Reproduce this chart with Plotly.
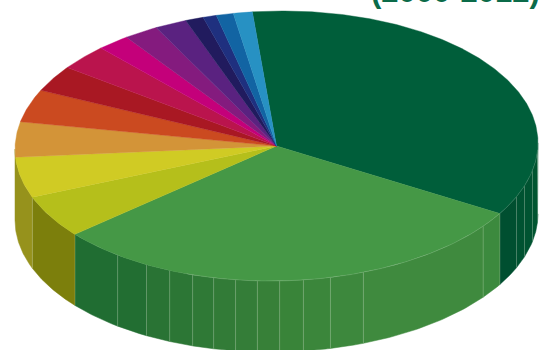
import numpy as np
import plotly.graph_objects as go

# Sector shares (percent), clockwise from the start angle
shares = [35.17, 30.3, 5.17, 4.86, 4.19, 3.89, 3.11, 3.03, 2.0, 2.11, 1.97, 1.11, 0.83, 1.06, 1.17]
top_colors = ["#005E3A", "#459846", "#B5BF1B", "#D0CB24", "#D39438", "#CB4A20", "#A91823", "#BA144D",
              "#C4007A", "#841B7E", "#5A2280", "#211B5E", "#1F307F", "#1264A3", "#2791C3"]
title_text = "(2000-2012)"

# Facets of the visible rim: boundary angles (degrees clockwise from north) and fill colours
facet_edges = [90, 93.6, 101.8, 108.5, 113.4, 121.3, 127.8, 160.6, 168.1, 174.1, 179.3, 184.2, 189,
               193.9, 198.7, 204.1, 209.8, 217.4, 230.4, 249, 270]
facet_colors = ["#00562F", "#005530", "#005331", "#005231", "#004F30", "#3C8A3E", "#3F8A3E", "#3D883D",
                "#3B863B", "#398439", "#378038", "#347D38", "#327B37", "#2F7936", "#2C7635", "#297334",
                "#226E32", "#206D32", "#7C7F0C", "#96921C"]

# Ellipse of the top face, with a slight tilt towards the upper right
cx, cy, rx, ry, depth, tilt = 276.5, 146.0, 261.5, 135.0, 71.0, 0.012
start_angle = -5.3


def rim(theta_deg, lift=0.0):
    t = np.radians(theta_deg)
    x = cx + rx * np.sin(t)
    return x, cy - ry * np.cos(t) + lift - tilt * (x - cx)


fig = go.Figure()

# Rim facets first, so the top face covers their upper edge
for i, color in enumerate(facet_colors):
    th = np.linspace(facet_edges[i], facet_edges[i + 1], 40)
    x_top, y_top = rim(th)
    x_bot, y_bot = rim(th[::-1], depth)
    fig.add_trace(go.Scatter(x=np.r_[x_top, x_bot], y=np.r_[y_top, y_bot], mode="lines", fill="toself",
                             fillcolor=color, line=dict(color=color, width=0.5), hoverinfo="skip"))

# Thin light seams between rim facets
for edge in facet_edges[1:-1]:
    x_s, y_s = rim(np.array([edge, edge]), np.array([0.0, depth]))
    fig.add_trace(go.Scatter(x=x_s, y=y_s, mode="lines", line=dict(color="rgba(215,230,205,0.32)", width=0.7),
                             hoverinfo="skip"))

# Top face: one wedge per share
bounds = start_angle + np.cumsum([0] + shares) * 360 / sum(shares)
for i, color in enumerate(top_colors):
    th = np.linspace(bounds[i], bounds[i + 1], max(int(bounds[i + 1] - bounds[i]) * 2, 6))
    x_arc, y_arc = rim(th)
    fig.add_trace(go.Scatter(x=np.r_[cx, x_arc, cx], y=np.r_[cy, y_arc, cy], mode="lines", fill="toself",
                             fillcolor=color, line=dict(color=color, width=0.4), hoverinfo="skip"))

# Faint highlight along the front edge of the top face
x_e, y_e = rim(np.linspace(93, 200, 120))
fig.add_trace(go.Scatter(x=x_e, y=y_e, mode="lines", line=dict(color="rgba(215,230,205,0.25)", width=0.6),
                         hoverinfo="skip"))

fig.add_annotation(x=541, y=3.5, xref="x", yref="y", xanchor="right", yanchor="bottom", yshift=-7,
                   text=f"<b>{title_text}</b>", showarrow=False, borderpad=0,
                   font=dict(family="Liberation Sans", size=31, color="#0B6B49"))

fig.update_layout(width=542, height=350, margin=dict(l=0, r=0, t=0, b=0), showlegend=False,
                  paper_bgcolor="white", plot_bgcolor="white",
                  xaxis=dict(range=[0, 542], visible=False, fixedrange=True),
                  yaxis=dict(range=[350, 0], visible=False, fixedrange=True))
fig.write_html("out.html", config=dict(displayModeBar=False))
